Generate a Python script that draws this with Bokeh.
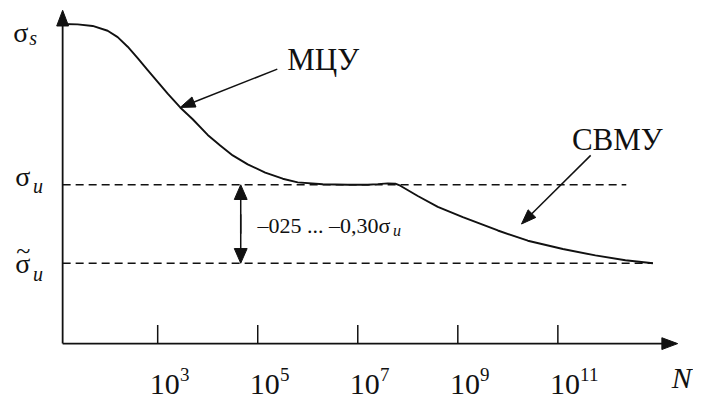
import math
from bokeh.plotting import figure
from bokeh.models import Range1d
from bokeh.core.properties import value
from bokeh.embed import file_html
from bokeh.resources import INLINE

# ---------------- data ----------------
log_n = [1.1, 1.4, 1.7, 2.0, 2.2, 2.4, 2.6, 2.8, 3.0, 3.2, 3.45, 3.7, 4.0, 4.25,
         4.5, 4.8, 5.15, 5.5, 5.8, 6.3, 6.8, 7.2, 7.4, 7.6, 7.75, 7.85, 8.2,
         8.6, 9.1, 9.8, 10.4, 11.1, 11.75, 12.35, 12.9]
stress = [1.0, 0.999, 0.994, 0.979, 0.959, 0.929, 0.893, 0.856, 0.819, 0.782,
          0.739, 0.702, 0.653, 0.620, 0.589, 0.561, 0.535, 0.516, 0.5046, 0.4985,
          0.497, 0.497, 0.499, 0.5015, 0.5005, 0.494, 0.462, 0.428, 0.396, 0.354,
          0.322, 0.296, 0.276, 0.261, 0.2515]
sigma_s = 1.0
sigma_u = 0.497
sigma_u_tilde = 0.2515
axis_origin_x = 1.1
tick_exponents = [3, 5, 7, 9, 11]
tick_base = "10"
tick_sup = ["3", "5", "7", "9", "11"]
curve_labels = ["МЦУ", "СВМУ"]
band_text = "–025 ... –0,30σ"
band_sub = "u"

# ---------------- layout helpers (reference-picture pixels -> data) ----------------
W, H = 693, 399
PPX = 50.6     # picture px per decade
PPY = 326.0    # picture px per stress unit
BASE_FIX = 0.32  # em, compensates the baseline placement of the svg text


def X(px):
    return 3 + (px - 159) / PPX


def Y(py):
    return (350 - py) / PPY


def YT(py, size):
    return Y(py - BASE_FIX * size)


def PX(x):
    return 159 + (x - 3) * PPX


def PY(y):
    return 350 - y * PPY


FONT = value("Liberation Serif")
INK = "#111111"

p = figure(width=W, height=H,
           x_range=Range1d(X(0), X(701)),
           y_range=Range1d(Y(407), Y(0)),
           x_axis_type=None, y_axis_type=None,
           toolbar_location=None, output_backend="svg", min_border=0)
p.outline_line_color = None
p.grid.visible = False
p.background_fill_color = "white"
p.border_fill_color = "white"

# ---------------- arrows (shaft + filled head) ----------------
head_xs, head_ys = [], []
shaft = {"x0": [], "y0": [], "x1": [], "y1": [], "w": []}


def arrow(tail, tip, length=15, width=11, lw=1.5):
    tx, ty = tip
    sx, sy = tail
    d = math.hypot(tx - sx, ty - sy)
    ux, uy = (tx - sx) / d, (ty - sy) / d
    nx, ny = -uy, ux
    bx, by = tx - length * ux, ty - length * uy
    head_xs.append([X(tx), X(bx + nx * width / 2), X(bx - nx * width / 2)])
    head_ys.append([Y(ty), Y(by + ny * width / 2), Y(by - ny * width / 2)])
    shaft["x0"].append(X(sx))
    shaft["y0"].append(Y(sy))
    shaft["x1"].append(X(tx - 0.6 * length * ux))
    shaft["y1"].append(Y(ty - 0.6 * length * uy))
    shaft["w"].append(lw)


ox = PX(axis_origin_x)
arrow((ox, PY(0)), (685, PY(0)), 16, 12, 1.8)                     # N axis
arrow((ox, PY(0)), (ox, 10), 16, 12, 1.8)                         # sigma axis
arrow((280, 70), (PX(log_n[10]), PY(stress[10])), 15, 11)         # МЦУ
arrow((597, 158), (527, 228), 15, 11)                             # СВМУ
band_x = 243
arrow((band_x, PY(sigma_u_tilde) - 30), (band_x, PY(sigma_u)), 15, 13)
arrow((band_x, PY(sigma_u) + 30), (band_x, PY(sigma_u_tilde)), 15, 13)

p.segment(x0="x0", y0="y0", x1="x1", y1="y1", line_width="w", line_color=INK,
          source=shaft)
p.patches(xs=head_xs, ys=head_ys, fill_color=INK, line_color=INK, line_width=1)

# ticks
p.segment(x0=tick_exponents, y0=[0] * len(tick_exponents),
          x1=tick_exponents, y1=[19 / PPY] * len(tick_exponents),
          line_width=1.5, line_color=INK)


def label(xs, ys, texts, size, italic=False):
    p.text(x=xs, y=[YT(v, size) for v in ys], text=texts, text_font=FONT,
           text_font_size=f"{size}px", text_font_style="italic" if italic else "normal",
           text_color=INK, text_baseline="alphabetic", text_align="left")


n = len(tick_exponents)
# tick labels
label([t - 8 / PPX for t in tick_exponents], [401] * n, [tick_base] * n, 30)
label([t + 22.5 / PPX for t in tick_exponents], [388] * n, tick_sup, 19)
label([X(679)], [394], ["N"], 30, italic=True)

# dashed levels
p.segment(x0=[axis_origin_x, axis_origin_x], y0=[sigma_u, sigma_u_tilde],
          x1=[X(633), log_n[-1]], y1=[sigma_u, sigma_u_tilde],
          line_dash="8 5", line_width=1.6, line_color=INK)

# curve
p.line(log_n, stress, line_width=1.9, line_color=INK)

# y labels
label([X(13), X(15), X(15)], [42, 188, 277], ["σ", "σ", "σ"], 28)
label([X(29), X(33), X(33)], [45, 196, 285], ["s", "u", "u"], 20, italic=True)
label([X(16)], [263], ["~"], 26)

# curve labels
label([X(290), X(578)], [70, 152], curve_labels, 31)

# band label
label([X(260)], [237], [band_text], 22)
label([X(397)], [240], [band_sub], 16, italic=True)

open("out.html", "w").write(file_html(p, INLINE))
